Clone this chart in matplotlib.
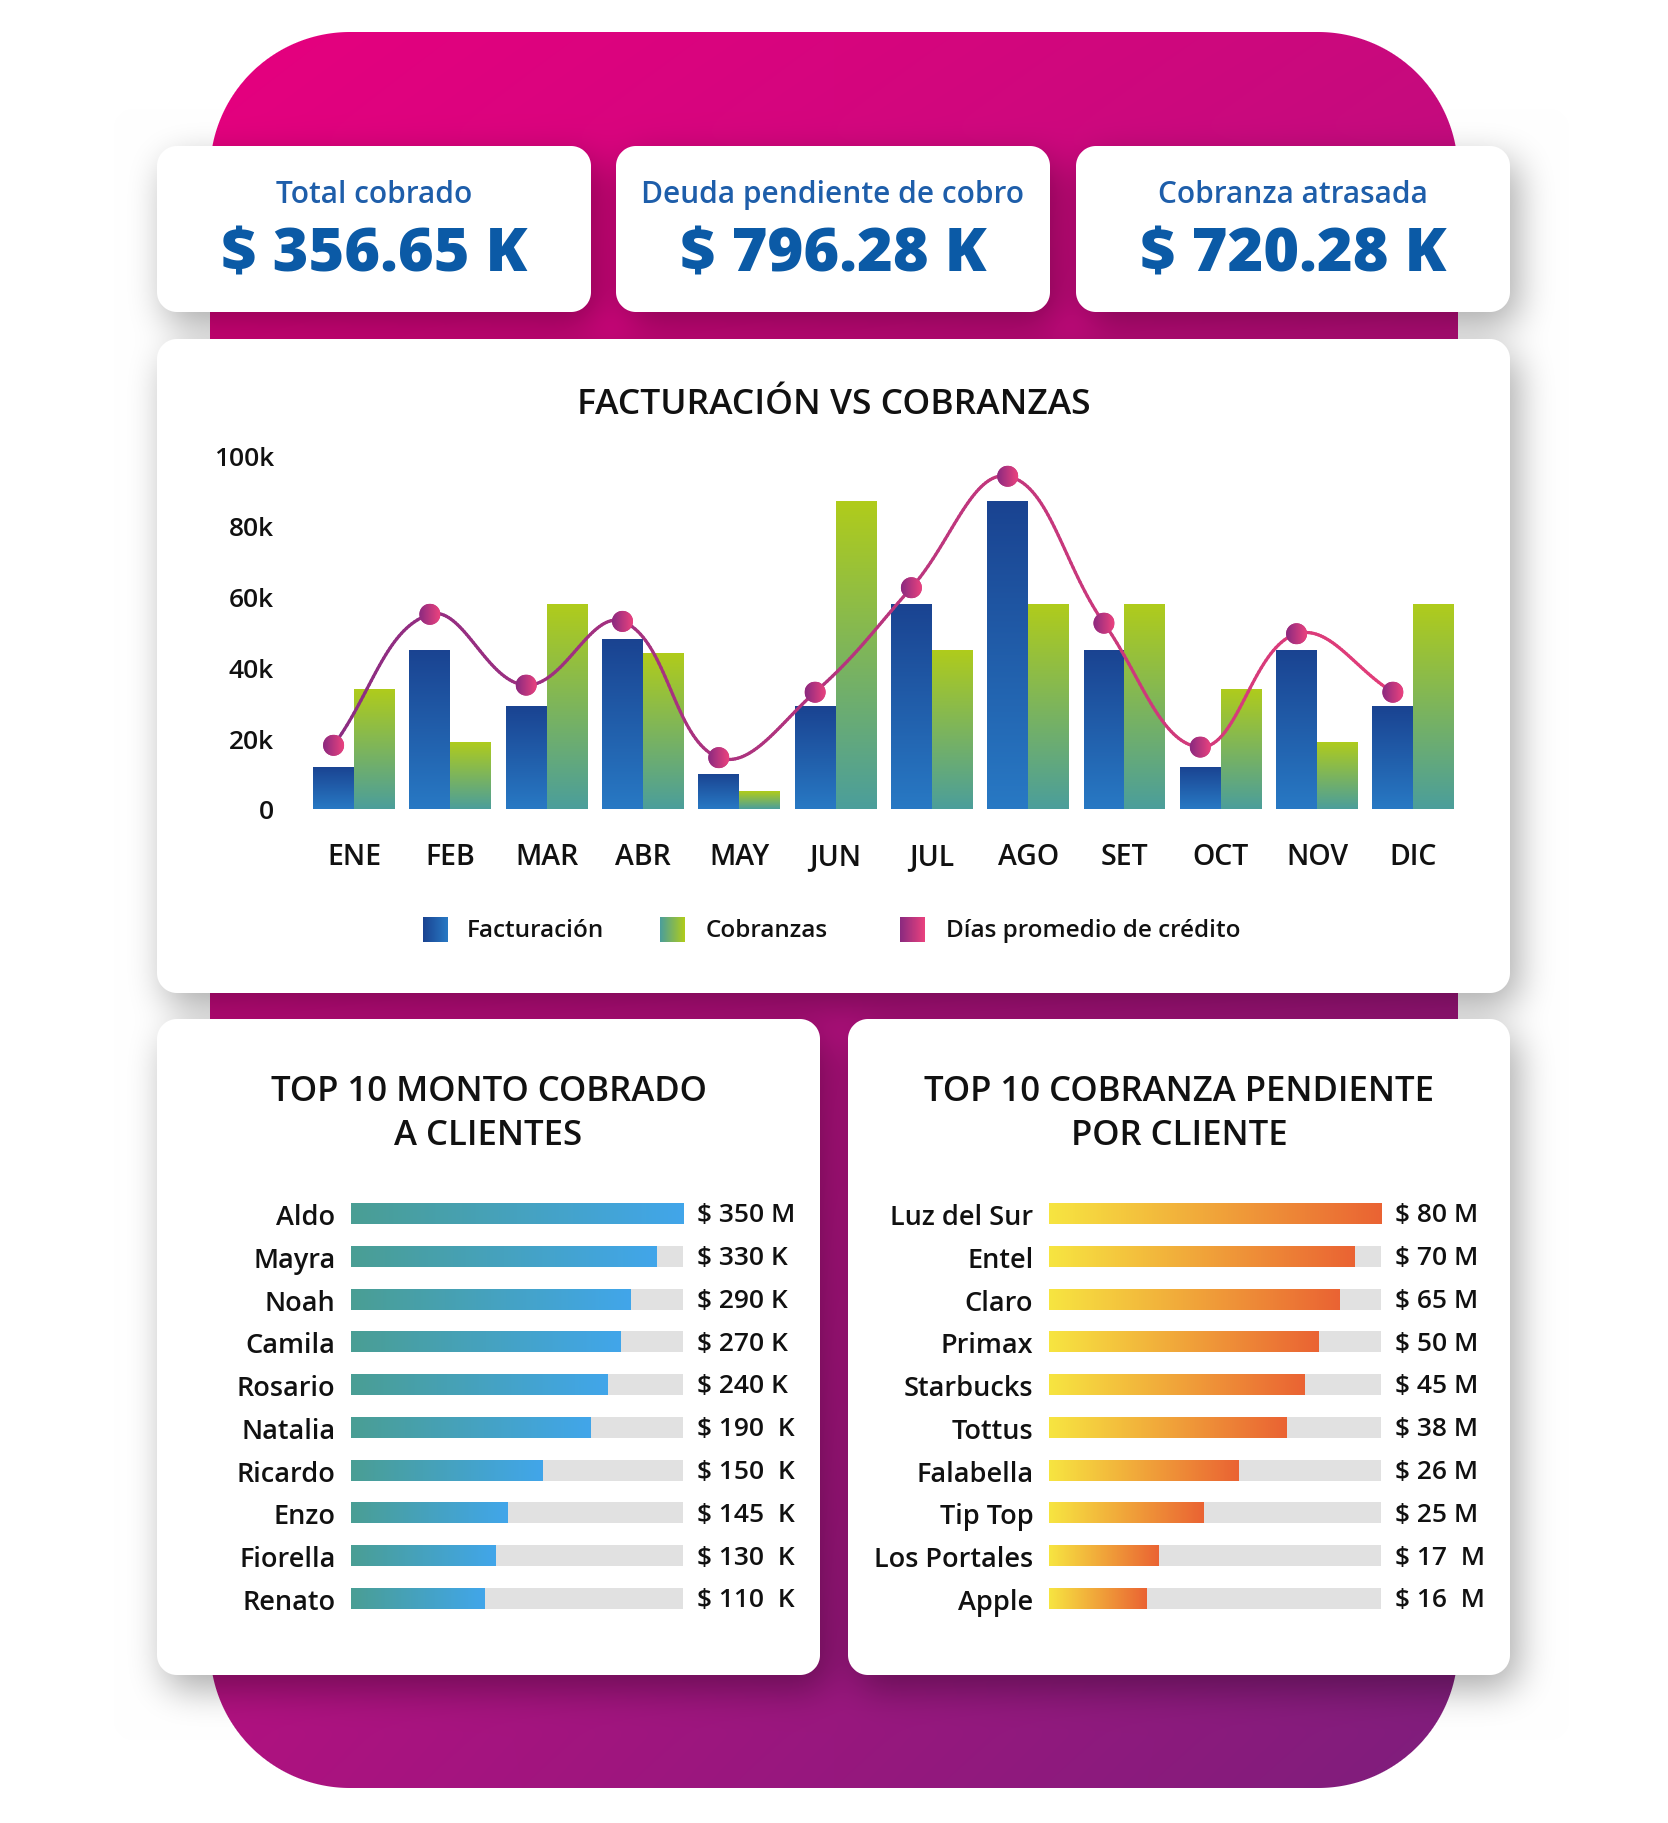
import numpy as np
import matplotlib
matplotlib.use('Agg')
import matplotlib.pyplot as plt
from matplotlib.patches import Ellipse
from matplotlib.colors import LinearSegmentedColormap, to_rgb
from matplotlib.collections import LineCollection

# ---------------- data ----------------
kpi_titles = ['Total cobrado', 'Deuda pendiente de cobro', 'Cobranza atrasada']
kpi_values = ['$ 356.65 K', '$ 796.28 K', '$ 720.28 K']

chart_title = 'FACTURACIÓN VS COBRANZAS'
months = ['ENE', 'FEB', 'MAR', 'ABR', 'MAY', 'JUN', 'JUL', 'AGO', 'SET', 'OCT', 'NOV', 'DIC']
facturacion = [12000, 45000, 29000, 48000, 10000, 29000, 58000, 87000, 45000, 12000, 45000, 29000]
cobranzas = [34000, 19000, 58000, 44000, 5000, 87000, 45000, 58000, 58000, 34000, 19000, 58000]
dias_credito = [18000, 55000, 35000, 53000, 14500, 33000, 62500, 94000, 52500, 17500, 49500, 33000]
y_ticks = [0, 20000, 40000, 60000, 80000, 100000]
y_tick_labels = ['0', '20k', '40k', '60k', '80k', '100k']
legend_labels = ['Facturación', 'Cobranzas', 'Días promedio de crédito']

title_cobrado = ['TOP 10 MONTO COBRADO', 'A CLIENTES']
clientes_cobrado = ['Aldo', 'Mayra', 'Noah', 'Camila', 'Rosario', 'Natalia', 'Ricardo', 'Enzo', 'Fiorella', 'Renato']
cobrado_pct = [100, 92, 84, 81, 77, 72, 57.5, 47, 43.5, 40]
cobrado_labels = ['$ 350 M', '$ 330 K', '$ 290 K', '$ 270 K', '$ 240 K', '$ 190  K', '$ 150  K',
                  '$ 145  K', '$ 130  K', '$ 110  K']

title_pendiente = ['TOP 10 COBRANZA PENDIENTE', 'POR CLIENTE']
clientes_pendiente = ['Luz del Sur', 'Entel', 'Claro', 'Primax', 'Starbucks', 'Tottus', 'Falabella',
                      'Tip Top', 'Los Portales', 'Apple']
pendiente_pct = [100, 92, 87.5, 81, 77, 71.5, 57, 46.5, 33, 29.5]
pendiente_labels = ['$ 80 M', '$ 70 M', '$ 65 M', '$ 50 M', '$ 45 M', '$ 38 M', '$ 26 M', '$ 25 M',
                    '$ 17  M', '$ 16  M']

# ---------------- style ----------------
plt.rcParams['font.family'] = ['Open Sans', 'DejaVu Sans']
W, H, DPI = 1668, 1824, 100
TXT = '#111111'
KPI_T = '#1E5EAA'
KPI_V = '#0B5AA6'
FW = 'semibold'

def cmap2(c0, c1):
    return LinearSegmentedColormap.from_list('g', [c0, c1])

CM_BLUE = cmap2('#2879C4', '#1A4391')
CM_GREEN = cmap2('#4B9E9B', '#B0CC1B')
CM_DOT = cmap2('#8A2A80', '#EA427E')
CM_LINE = cmap2('#8C2C82', '#E23D79')
CM_H1 = cmap2('#4A9E94', '#41A6EA')
CM_H2 = cmap2('#F7E541', '#EA6333')

# ---------------- background image ----------------
Yg, Xg = np.mgrid[0:H, 0:W].astype(float)
Xg += 0.5
Yg += 0.5

def rr_alpha(x0, y0, x1, y1, r):
    cx, cy = (x0 + x1) / 2, (y0 + y1) / 2
    hw, hh = (x1 - x0) / 2, (y1 - y0) / 2
    qx = np.maximum(np.abs(Xg - cx) - (hw - r), 0)
    qy = np.maximum(np.abs(Yg - cy) - (hh - r), 0)
    d = np.sqrt(qx ** 2 + qy ** 2)
    return np.clip(r - d + 0.5, 0, 1)

def blur1d(a, r, axis):
    pad = [(0, 0)] * a.ndim
    pad[axis] = (r + 1, r)
    p = np.pad(a, pad, mode='constant')
    c = np.cumsum(p, axis=axis)
    n = a.shape[axis]
    hi = np.take(c, np.arange(2 * r + 1, 2 * r + 1 + n), axis=axis)
    lo = np.take(c, np.arange(0, n), axis=axis)
    return (hi - lo) / (2 * r + 1)

img = np.ones((H, W, 3))
SX0, SY0, SX1, SY1 = 210, 33, 1458, 1789
m = rr_alpha(SX0, SY0, SX1, SY1, 140)[..., None]
u = np.clip((Xg - SX0) / (SX1 - SX0), 0, 1)[..., None]
v = np.clip((Yg - SY0) / (SY1 - SY0), 0, 1)[..., None]
TL, TR, BL, BR = [np.array(to_rgb(c)) for c in ('#E6007E', '#C80A7E', '#AE1280', '#7E1E7C')]
grad = (1 - u) * (1 - v) * TL + u * (1 - v) * TR + (1 - u) * v * BL + u * v * BR
img = img * (1 - m) + grad * m

cards = [(157, 147, 591, 313), (616, 147, 1050, 313), (1076, 147, 1510, 313),
         (157, 340, 1510, 994), (157, 1020, 820, 1676), (848, 1020, 1510, 1676)]
CR = 20
sh = np.zeros((H, W))
for (x0, y0, x1, y1) in cards:
    sh = np.maximum(sh, rr_alpha(x0 + 8, y0 + 14, x1 + 8, y1 + 14, CR))
for _ in range(3):
    sh = blur1d(sh, 17, 0)
    sh = blur1d(sh, 17, 1)
img = img * (1 - 0.33 * sh[..., None])
cm_ = np.zeros((H, W))
for (x0, y0, x1, y1) in cards:
    cm_ = np.maximum(cm_, rr_alpha(x0, y0, x1, y1, CR))
img = img * (1 - cm_[..., None]) + cm_[..., None]

# ---------------- figure ----------------
fig = plt.figure(figsize=(W / DPI, H / DPI), dpi=DPI)
ax_bg = fig.add_axes([0, 0, 1, 1])
ax_bg.imshow(img, extent=(0, W, H, 0), interpolation='none', aspect='auto', zorder=0)
ax_bg.set_xlim(0, W)
ax_bg.set_ylim(H, 0)
ax_bg.axis('off')

for (x0, y0, x1, y1), t, val in zip(cards[:3], kpi_titles, kpi_values):
    cx = (x0 + x1) / 2
    ax_bg.text(cx, 203, t, ha='center', va='baseline', fontsize=21.5, color=KPI_T, fontweight=FW)
    ax_bg.text(cx, 271.5, val, ha='center', va='baseline', fontsize=44, color=KPI_V, fontweight='heavy')

ax_bg.text(833.5, 414, chart_title, ha='center', va='baseline', fontsize=25.5, color=TXT, fontweight=FW)

def grad_fill(ax, bar, cmap, direction):
    x0, y0 = bar.get_xy()
    w, h = bar.get_width(), bar.get_height()
    if direction == 'v':
        arr = np.linspace(0, 1, 256).reshape(-1, 1)
    else:
        arr = np.linspace(0, 1, 256).reshape(1, -1)
    im = ax.imshow(arr, cmap=cmap, extent=(x0, x0 + w, y0, y0 + h), origin='lower',
                   aspect='auto', interpolation='bilinear', zorder=bar.get_zorder() + 0.05)
    im.set_clip_path(bar)
    return im

# main chart axes
AL, AR, AT, AB = 305.9, 1461.5, 456, 810
ax = fig.add_axes([AL / W, 1 - AB / H, (AR - AL) / W, (AB - AT) / H])
ax.set_facecolor('none')
xs = np.arange(len(months))
bw = 0.425
b1 = ax.bar(xs - bw / 2, facturacion, bw, color='#2260AC', zorder=2, linewidth=0)
b2 = ax.bar(xs + bw / 2, cobranzas, bw, color='#8DBB3C', zorder=2, linewidth=0)
for b in b1:
    grad_fill(ax, b, CM_BLUE, 'v')
for b in b2:
    grad_fill(ax, b, CM_GREEN, 'v')

# smooth (cardinal spline, tension 0.4, in pixel space) line through the points
ppx = (AR - AL) / 12.0
ppy = (AB - AT) / 100000.0
px_ = xs - bw / 2
py_ = np.asarray(dias_credito, float)
P = np.column_stack([px_ * ppx, py_ * ppy])
tension = 0.4
n = len(P)
c_prev = P.copy()
c_next = P.copy()
for i in range(n):
    p0 = P[i - 1] if i > 0 else P[i]
    p1 = P[i]
    p2 = P[i + 1] if i < n - 1 else P[i]
    d01 = np.hypot(*(p1 - p0))
    d12 = np.hypot(*(p2 - p1))
    tot = d01 + d12
    fa = d01 / tot if tot else 0
    fb = d12 / tot if tot else 0
    c_prev[i] = p1 - tension * fa * (p2 - p0)
    c_next[i] = p1 + tension * fb * (p2 - p0)
curve = []
for i in range(n - 1):
    t = np.linspace(0, 1, 40, endpoint=(i == n - 2))[:, None]
    a, b, c, d = P[i], c_next[i], c_prev[i + 1], P[i + 1]
    curve.append((1 - t) ** 3 * a + 3 * (1 - t) ** 2 * t * b + 3 * (1 - t) * t ** 2 * c + t ** 3 * d)
curve = np.vstack(curve)
cxs = curve[:, 0] / ppx
cys = curve[:, 1] / ppy
pts = np.column_stack([cxs, cys]).reshape(-1, 1, 2)
segs = np.concatenate([pts[:-1], pts[1:]], axis=1)
lc = LineCollection(segs, colors=CM_LINE((cxs[:-1] - cxs.min()) / (cxs.max() - cxs.min())),
                    linewidths=2.3, zorder=3, capstyle='round')
ax.add_collection(lc)

dw, dh = 21 / ppx, 21 / ppy
for xi, yi in zip(px_, py_):
    e = Ellipse((xi, yi), dw, dh, facecolor='#C03780', edgecolor='none', zorder=4)
    ax.add_patch(e)
    im = ax.imshow(np.linspace(0, 1, 64).reshape(1, -1), cmap=CM_DOT,
                   extent=(xi - dw / 2, xi + dw / 2, yi - dh / 2, yi + dh / 2),
                   origin='lower', aspect='auto', interpolation='bilinear', zorder=4.1)
    im.set_clip_path(e)

ax.set_xlim(-0.5, 11.5)
ax.set_ylim(0, 100000)
ax.set_xticks(xs, months)
ax.set_yticks(y_ticks, y_tick_labels)
ax.tick_params(axis='both', length=0, labelsize=19, labelcolor=TXT)
ax.tick_params(axis='x', labelsize=20.5)
for lab in ax.get_xticklabels() + ax.get_yticklabels():
    lab.set_fontweight(FW)
ax.tick_params(axis='x', pad=23.5)
ax.tick_params(axis='y', pad=23)
for s in ax.spines.values():
    s.set_visible(False)

# legend
leg_items = [(423, 467, CM_BLUE.reversed(), legend_labels[0]),
             (660, 706, CM_GREEN, legend_labels[1]),
             (900, 946, CM_DOT, legend_labels[2])]
for px0, tx, cmap, lab in leg_items:
    ax_bg.imshow(np.linspace(0, 1, 64).reshape(1, -1), cmap=cmap, extent=(px0, px0 + 25, 943, 918),
                 aspect='auto', interpolation='bilinear', zorder=2)
    ax_bg.text(tx, 931, lab, ha='left', va='center', fontsize=17.5, color=TXT, fontweight=FW)
ax_bg.set_xlim(0, W)
ax_bg.set_ylim(H, 0)

# horizontal bar panels
def hpanel(left, right, names, pct, labels, cmap, title_lines, cx):
    top, bot = 1193.1, 1620.9
    a = fig.add_axes([left / W, 1 - bot / H, (right - left) / W, (bot - top) / H])
    a.set_facecolor('none')
    ys = np.arange(len(names))
    a.barh(ys, [100] * len(names), 0.49, color='#E1E1E1', zorder=1, linewidth=0)
    bars = a.barh(ys, pct, 0.49, color=cmap(0.5), zorder=2, linewidth=0)
    for b in bars:
        grad_fill(a, b, cmap, 'h')
    for yi, lab in zip(ys, labels):
        a.annotate(lab, (100, yi), xytext=(10, -1), textcoords='offset points', ha='left',
                   va='center', fontsize=19, color=TXT, fontweight=FW, annotation_clip=False)
    a.set_xlim(0, 100)
    a.set_ylim(len(names) - 0.5, -0.5)
    a.set_yticks(ys, names)
    for lab in a.get_yticklabels():
        lab.set_fontweight(FW)
    a.set_xticks([])
    a.tick_params(axis='y', length=0, labelsize=19.5, labelcolor=TXT, pad=11)
    for s in a.spines.values():
        s.set_visible(False)
    ax_bg.text(cx, 1101, title_lines[0], ha='center', va='baseline', fontsize=25, color=TXT,
               fontweight=FW)
    ax_bg.text(cx, 1144.6, title_lines[1], ha='center', va='baseline', fontsize=25, color=TXT,
               fontweight=FW)
    return a

hpanel(350.8, 683.4, clientes_cobrado, cobrado_pct, cobrado_labels, CM_H1, title_cobrado, 488.5)
hpanel(1048.6, 1380.8, clientes_pendiente, pendiente_pct, pendiente_labels, CM_H2, title_pendiente, 1179)

fig.savefig('out.png', dpi=DPI)
